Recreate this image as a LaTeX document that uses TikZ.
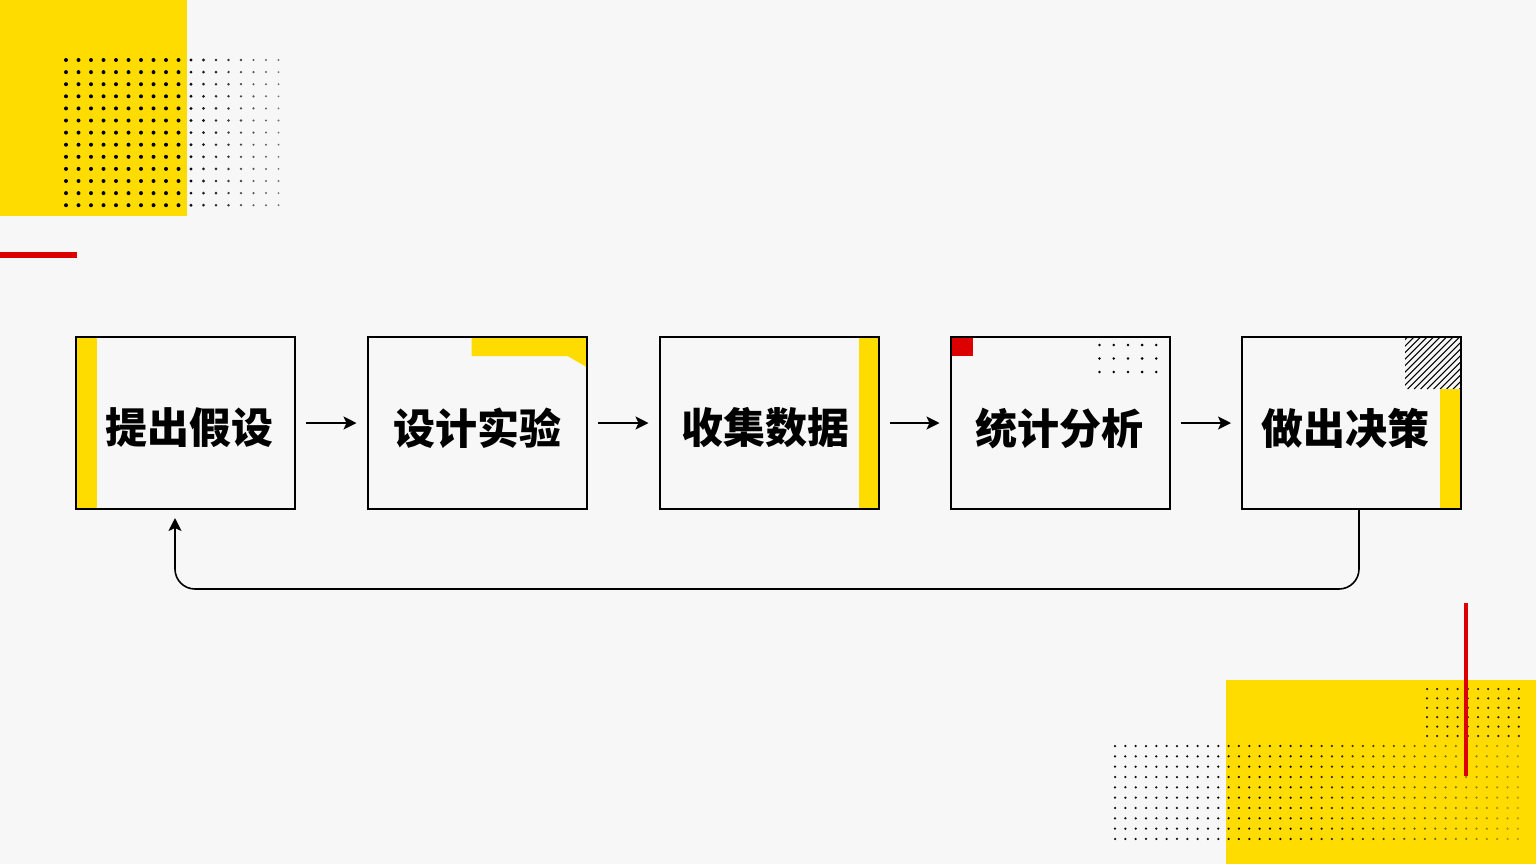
\documentclass[tikz,border=0pt]{standalone}
\usepackage{fontspec}
\newfontfamily\cjk{Noto Sans CJK SC Black}
\usetikzlibrary{arrows.meta,calc,backgrounds}
\definecolor{bgc}{HTML}{F7F7F7}
\definecolor{yel}{HTML}{FFDC00}
\definecolor{redc}{HTML}{DC0000}
\tikzset{
  stepbox/.style={draw=black, line width=1pt, minimum width=109.5pt, minimum height=86pt,
    inner sep=0pt, outer sep=0pt},
  steptext/.style={inner sep=0pt, font=\cjk\fontsize{21pt}{24pt}\selectfont},
  arr/.style={draw=black, line width=0.8pt, -{Stealth[length=6.5pt,width=6.5pt,inset=1.5pt]}},
  flow/.style={arr, shorten <=5.5pt, shorten >=5.5pt}
}
\begin{document}
\begin{tikzpicture}[x=0.5pt,y=-0.5pt]
\useasboundingbox (0,0) rectangle (1536,864);
% step boxes
\node[stepbox] (b1) at (185.5,423) {};
\node[stepbox] (b2) at (477,423) {};
\node[stepbox] (b3) at (769,423) {};
\node[stepbox] (b4) at (1060,423) {};
\node[stepbox] (b5) at (1351.5,423) {};
\node[steptext] (t1) at ($(b1.center)+(4,5)$) {提出假设};
\node[steptext] (t2) at ($(b2.center)+(0,5)$) {设计实验};
\node[steptext] (t3) at ($(b3.center)+(-4,5)$) {收集数据};
\node[steptext] (t4) at ($(b4.center)+(-1,5)$) {统计分析};
\node[steptext] (t5) at ($(b5.center)+(-6,5)$) {做出决策};
\begin{pgfonlayer}{background}
  \fill[bgc] (0,0) rectangle (1536,864);
  % top-left decoration
  \fill[yel] (0,0) rectangle (187,216);
  \foreach \i in {0,...,17}{
    \foreach \j in {0,...,12}{
      \pgfmathsetmacro{\rr}{\i<10 ? 2.0 : 1.6-0.08*(\i-10)}
      \pgfmathsetmacro{\op}{\i<10 ? 1 : 0.95-0.06*(\i-10)}
      \fill[black,opacity=\op] (66+12.5*\i,60+12.1*\j) circle[radius=\rr];
    }
  }
  \fill[redc] (0,252) rectangle (77,257.5);
  % bottom-right decoration
  \fill[yel] (1226,680) rectangle (1536,864);
  \foreach \i in {0,...,39}{
    \foreach \j in {0,...,9}{
      \pgfmathsetmacro{\op}{\i<17 ? 0.95 : 0.95-0.03*(\i-17)}
      \fill[black,opacity=\op] (1115+10.33*\i,746+10.33*\j) circle[radius=1.25];
    }
  }
  \foreach \i in {0,...,9}{
    \foreach \j in {0,...,5}{
      \fill[black,opacity=0.85] (1427+10.2*\i,689+9.4*\j) circle[radius=1.25];
    }
  }
  \fill[redc] (1464,603) rectangle (1467.5,776);
  % box decorations
  \fill[yel] (b1.north west) rectangle ($(b1.south west)+(21,0)$);
  \fill[yel] ($(b2.north east)+(-115,0)$) -- (b2.north east) -- ($(b2.north east)+(0,30)$)
     -- ($(b2.north east)+(-19,19)$) -- ($(b2.north east)+(-115,19)$) -- cycle;
  \fill[yel] ($(b3.north east)+(-20,0)$) rectangle (b3.south east);
  \fill[redc] (b4.north west) rectangle ($(b4.north west)+(22,19)$);
  \foreach \i in {0,...,4}{
    \foreach \j in {0,...,2}{
      \fill[black] ($(b4.north east)+(-70+14.2*\i,8+13.5*\j)$) circle[radius=1.4];
    }
  }
  \begin{scope}
    \clip ($(b5.north east)+(-56,0)$) rectangle ($(b5.north east)+(0,52)$);
    \foreach \k in {-56,-49.5,...,60}{
      \draw[black,line width=0.55pt] ($(b5.north east)+(-56+\k,52)$) -- ++(56,-56);
    }
  \end{scope}
  \fill[yel] ($(b5.north east)+(-21,52)$) rectangle (b5.south east);
\end{pgfonlayer}
% connectors
\draw[flow] (b1.east) -- (b2.west);
\draw[flow] (b2.east) -- (b3.west);
\draw[flow] (b3.east) -- (b4.west);
\draw[flow] (b4.east) -- (b5.west);
\coordinate (fbs) at ($(b5.south)+(7.5,0)$);
\coordinate (fbt) at ($(b1.south)+(-10.5,9)$);
\draw[arr, rounded corners=10pt] (fbs) -- ++(0,80) -| (fbt);
\end{tikzpicture}
\end{document}
